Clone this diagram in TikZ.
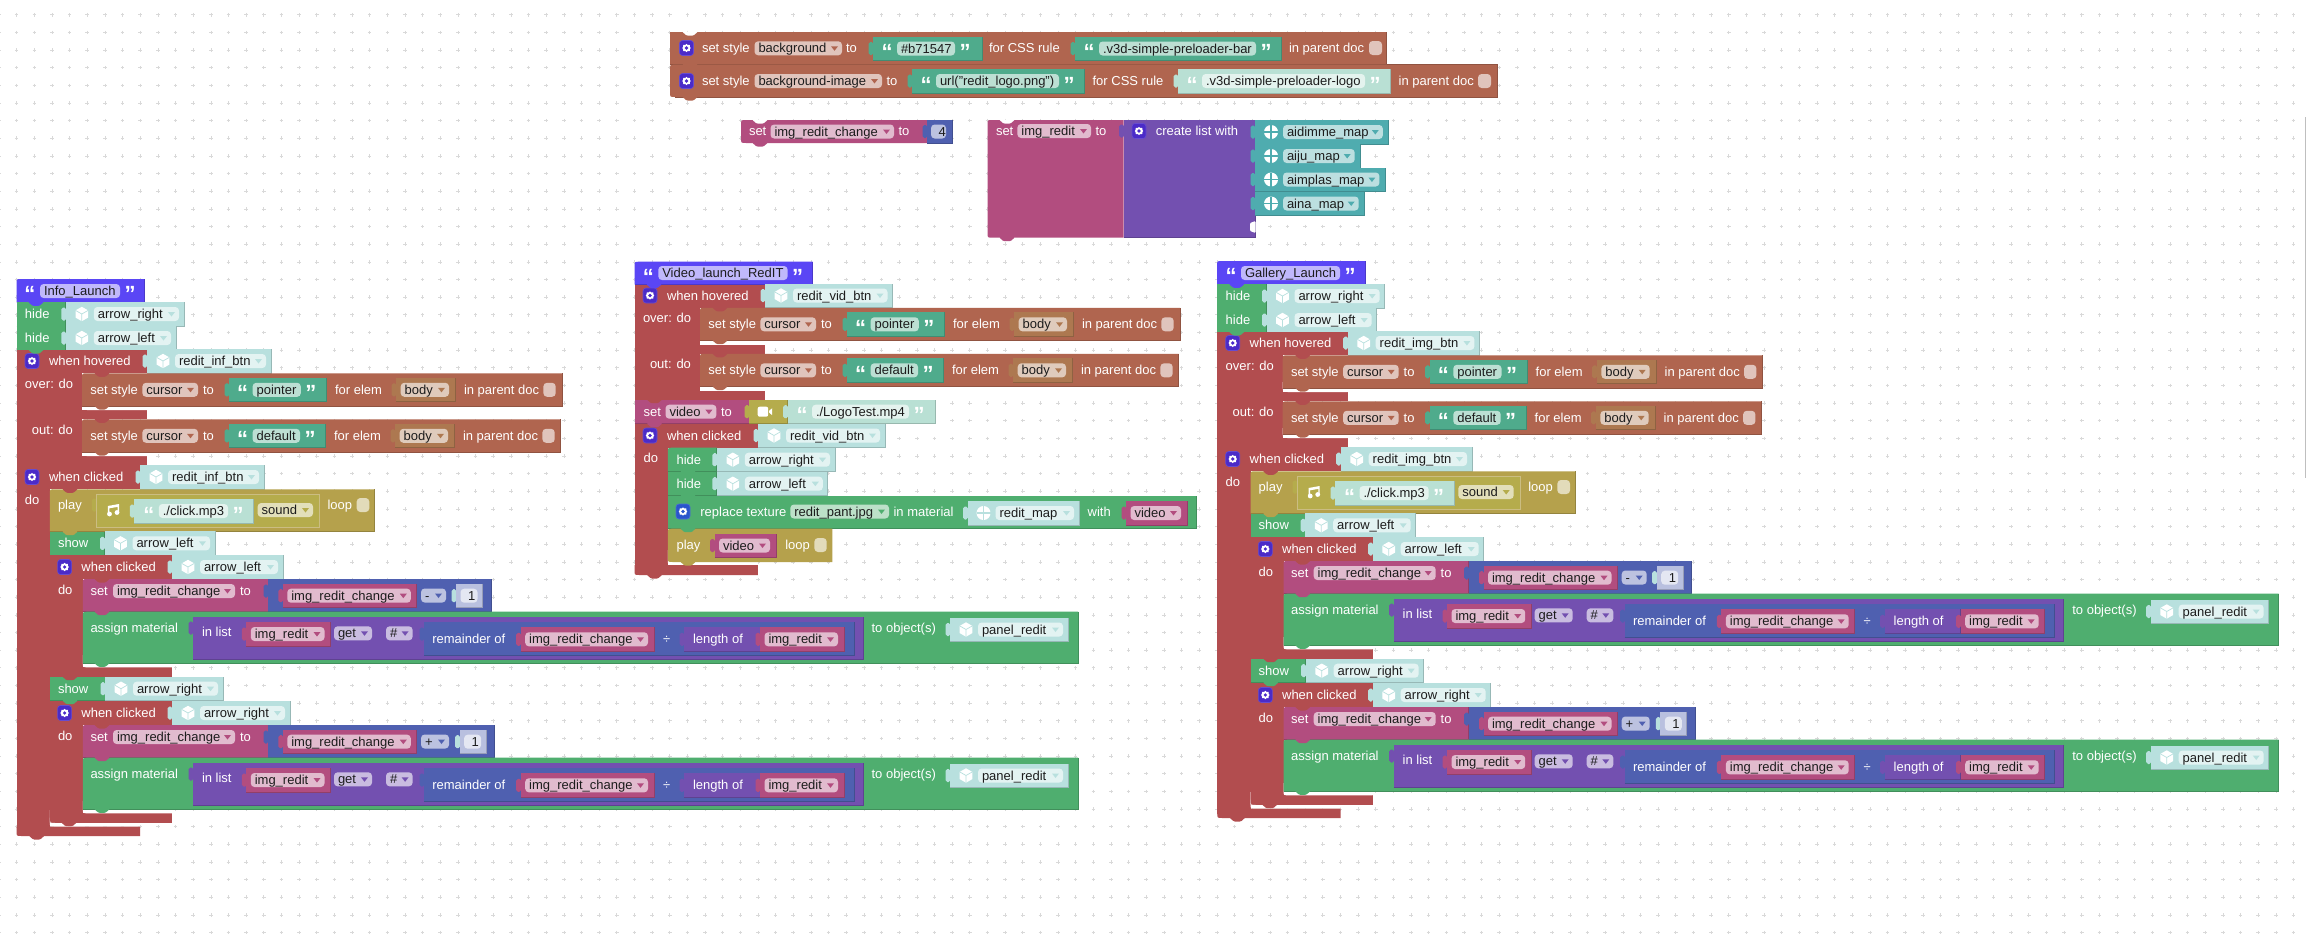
\documentclass[tikz,border=0pt]{standalone}
\usepackage{fontspec}
\setmainfont{Liberation Sans}
\definecolor{cbrown}{HTML}{B0654F}
\definecolor{cred}{HTML}{B24D4F}
\definecolor{colive}{HTML}{B5A14C}
\definecolor{coliveb}{HTML}{B5AC4C}
\definecolor{cgreen}{HTML}{4FAE6F}
\definecolor{cstr}{HTML}{4FAB8C}
\definecolor{clstr}{HTML}{B9E0D4}
\definecolor{cobj}{HTML}{B8E0DE}
\definecolor{cpink}{HTML}{B24D7F}
\definecolor{cpurple}{HTML}{7350B0}
\definecolor{cblue}{HTML}{4F60B0}
\definecolor{chead}{HTML}{5A46F5}
\definecolor{cmap}{HTML}{4FACAF}
\definecolor{cbody}{HTML}{AD7850}
\definecolor{cgear}{HTML}{4B2BC8}
\definecolor{cgearb}{HTML}{2A55CC}
\definecolor{ctxt}{HTML}{1C1C1C}
\tikzset{
  lbl/.style={inner sep=0pt,outer sep=0pt,anchor=base west,font=\fontsize{6.5}{7.8}\selectfont,text=white,yshift=-2.25pt},
  fdt/.style={lbl,text=ctxt},
  qte/.style={inner sep=0pt,outer sep=0pt,anchor=base,font=\fontsize{11}{12}\bfseries\selectfont,text=white,yshift=-5.5pt}
}
% block primitives
\newcommand\qFl[5]{\fill[#1] (#2,#3) rectangle (#4,#5);}
\newcommand\qBk[5]{\fill[#1] (#2,#3) rectangle (#4,#5);\draw[#1!82!black,line width=.35pt] (#2,#5)--(#4,#5)--(#4,#3);}
\newcommand\qRk[5]{\pgfmathsetmacro\rA{#2+5}\pgfmathsetmacro\rB{#3+5}%
  \fill[#1] (#2,#5)--(#2,\rB) .. controls (#2,#3) .. (\rA,#3)--(#4,#3)--(#4,#5)--cycle;%
  \draw[#1!82!black,line width=.35pt] (#2,#5)--(#4,#5)--(#4,#3);}
\newcommand\qRkb[5]{\pgfmathsetmacro\rA{#2+5}\pgfmathsetmacro\rB{#3+5}\pgfmathsetmacro\rC{#5-5}%
  \fill[#1] (\rA,#5) .. controls (#2,#5) .. (#2,\rC)--(#2,\rB) .. controls (#2,#3) .. (\rA,#3)--(#4,#3)--(#4,#5)--cycle;}
\newcommand\qBl[5]{\pgfmathsetmacro\rA{#2+5}\pgfmathsetmacro\rC{#5-5}%
  \fill[#1] (#2,#3)--(#2,\rC) .. controls (#2,#5) .. (\rA,#5)--(#4,#5)--(#4,#3)--cycle;}
\newcommand\qNt[3]{\fill[#1,shift={(#2,#3)},rounded corners=.5pt] (-8,-.5)--(-3.5,3.5)--(3.5,3.5)--(8,-.5)--cycle;}
\newcommand\qSk[3]{\fill[#1,shift={(#2,#3)},rounded corners=.9pt] (.5,-6.5)--(-4.5,-6.5)--(-4.5,6.5)--(.5,6.5)--cycle;}
% text
\newcommand\qTx[3]{\node[lbl] at (#1,#2) {#3};}
\newcommand\qFd[4]{\fill[white,fill opacity=.62,rounded corners=1.8pt,shift={(0,#3)}] (#1,-7) rectangle (#2,7);%
  \node[fdt,xshift=2pt] at (#1,#3) {#4};}
\newcommand\qDD[5]{\qFd{#1}{#2}{#3}{#5}\fill[#4,shift={(#2,#3)}] (-11,-2)--(-4,-2)--(-7.5,2.5)--cycle;}
\newcommand\qCb[3]{\fill[white,fill opacity=.62,rounded corners=1.8pt,shift={(0,#3)}] (#1,-7) rectangle (#2,7);}
\newcommand\qStr[7]{\qSk{#1}{#2}{#4}\pgfmathsetmacro\rT{#4-12}\pgfmathsetmacro\rU{#4+12}\qBk{#1}{#2}{\rT}{#3}{\rU}%
  \node[qte,xshift=-5pt] at (#5,#4) {“};\node[qte,xshift=5pt] at (#6,#4) {”};\qFd{#5}{#6}{#4}{#7}}
\newcommand\qVal[5]{\qSk{cobj}{#1}{#3}\pgfmathsetmacro\rT{#3-12}\pgfmathsetmacro\rU{#3+12}\qBk{cobj}{#1}{\rT}{#2}{\rU}%
  \pgfmathsetmacro\rI{#1+16}\pgfmathsetmacro\rF{#1+28}\pgfmathsetmacro\rG{#2-5}%
  #4{\rI}{#3}{cobj}\qDD{\rF}{\rG}{#3}{cobj}{#5}}
\newcommand\qVar[4]{\qSk{cpink}{#1}{#3}\pgfmathsetmacro\rT{#3-12}\pgfmathsetmacro\rU{#3+12}\qBk{cpink}{#1}{\rT}{#2}{\rU}%
  \pgfmathsetmacro\rF{#1+4.5}\pgfmathsetmacro\rG{#2-6}\qDD{\rF}{\rG}{#3}{cpink}{#4}}
\newcommand\qMap[3]{\qSk{cmap}{1255}{#1}\pgfmathsetmacro\rT{#1-12}\pgfmathsetmacro\rU{#1+12}\qBk{cmap}{1255}{\rT}{#2}{\rU}%
  \qMat{1271}{#1}{cmap}\pgfmathsetmacro\rG{#2-6}\qDD{1283}{\rG}{#1}{cmap}{#3}}
% icons
\newcommand\qGear[3]{\begin{scope}[shift={(#1,#2)}]
  \fill[#3,rounded corners=1.5pt] (-7,-7.5) rectangle (7,7.5);
  \draw[#3!85!white,line width=.3pt,rounded corners=1.5pt] (-7,-7.5) rectangle (7,7.5);
  \fill[white] (0,-4.2)--(1,-3.2)--(3.2,-3.2)--(3.4,-1.2)--(4.2,0)--(3.4,1.2)--(3.2,3.2)--(1,3.2)--(0,4.2)--(-1,3.2)--(-3.2,3.2)--(-3.4,1.2)--(-4.2,0)--(-3.4,-1.2)--(-3.2,-3.2)--(-1,-3.2)--cycle;
  \fill[#3] (0,0) circle (1.8);
  \end{scope}}
\newcommand\qCube[3]{\begin{scope}[shift={(#1,#2)}]
  \fill[white] (0,-7.2)--(6.3,-3.6)--(6.3,3.6)--(0,7.2)--(-6.3,3.6)--(-6.3,-3.6)--cycle;
  \draw[#3,line width=.35pt] (-6.3,-3.6)--(0,0)--(6.3,-3.6) (0,0)--(0,7.2);
  \end{scope}}
\newcommand\qMat[3]{\begin{scope}[shift={(#1,#2)}]
  \fill[white] (0,0) circle (7);
  \draw[#3,line width=.6pt] (-7,0)--(7,0) (0,-7)--(0,7);
  \end{scope}}
\newcommand\qNote[2]{\begin{scope}[shift={(#1,#2)}]
  \fill[white] (-3.5,3.5) circle (2.4);\fill[white] (4,2) circle (2.4);
  \fill[white] (-5.2,3.5)--(-5.2,-4.5)--(6,-6.5)--(6,2)--(4.6,2)--(4.6,-3.6)--(-3.6,-2.2)--(-3.6,3.5)--cycle;
  \end{scope}}
\newcommand\qCam[2]{\begin{scope}[shift={(#1,#2)}]
  \fill[white,rounded corners=1pt] (-7,-5) rectangle (3.5,5);
  \fill[white] (4.5,-1)--(7.5,-3.5)--(7.5,3.5)--(4.5,1)--cycle;
  \end{scope}}
% composite: set style cursor block
\newcommand\qCursor[6]{\pgfmathsetmacro\rY{#1+16.5}\pgfmathsetmacro\rE{#1+32.7}
  \qRk{cbrown}{82}{#1}{#3}{\rE}
  \qNt{cred}{102}{#1}
  \qTx{90.3}{\rY}{set style}
  \qDD{142.4}{198}{\rY}{cbrown}{cursor}
  \qTx{203}{\rY}{to}
  \qStr{cstr}{229}{#4}{\rY}{252.6}{#5}{#2}
  \begin{scope}[shift={(#6,0)}]
  \qTx{335}{\rY}{for elem}
  \qSk{cbody}{396}{\rY}
  \pgfmathsetmacro\rT{\rY-12}\pgfmathsetmacro\rU{\rY+12}
  \qBk{cbody}{396}{\rT}{455.4}{\rU}
  \qDD{400.7}{449}{\rY}{cbody}{body}
  \qTx{464}{\rY}{in parent doc}
  \qCb{543.4}{555.7}{\rY}
  \end{scope}
  \qNt{cbrown}{102}{\rE}
}
\newcommand\qHover[2]{
  \qFl{cred}{16.5}{350}{82}{465}
  \qFl{cred}{16.5}{350}{147}{373.3}
  \qFl{cred}{16.5}{410}{147}{419.3}
  \qFl{cred}{16.5}{456}{147}{465}
  \qBl{white}{82}{400}{147}{410}
  \qBl{white}{82}{446}{147}{456}
  \qGear{32}{361}{cgear}
  \qTx{49}{361}{when hovered}
  \qVal{147}{#1}{361}{\qCube}{#2}
  \qTx{25}{383.7}{over: do}
  \qTx{32}{429.7}{out: do}
  \qCursor{373.3}{pointer}{562}{326.4}{300.8}{0}
  \qCursor{419.3}{default}{560.6}{325.3}{300}{-1}
}
\newcommand\qClick[6]{
  \qFl{cred}{49.8}{555}{82.8}{676.7}
  \qFl{cred}{49.8}{555}{172}{579}
  \qFl{cred}{49.8}{667.3}{172}{676.7}
  \qBl{white}{82.8}{655}{172}{667.3}
  \qGear{64.6}{567}{cgear}
  \qTx{81.4}{567}{when clicked}
  \qVal{172}{#1}{567}{\qCube}{#2}
  \qTx{58}{590}{do}
  \qRk{cpink}{82.8}{579}{268}{611.7}
  \qNt{cred}{102}{579}
  \qTx{90.5}{591}{set}
  \qDD{113}{235}{591}{cpink}{img\_redit\_change}
  \qTx{240}{591}{to}
  \qSk{cblue}{268}{591}
  \qBk{cblue}{268}{579}{#6}{611.7}
  \qVar{282.8}{416.8}{595.7}{img\_redit\_change}
  \qDD{421}{#4}{595.5}{cblue}{#3}
  \qSk{cobj}{#5}{595.7}
  \pgfmathsetmacro\rN{#5+26.5}\pgfmathsetmacro\rF{#5+4.5}\pgfmathsetmacro\rG{#5+21.5}
  \qBk{cblue!40!white}{#5}{583.7}{\rN}{607.7}
  \qFd{\rF}{\rG}{595.7}{\kern1.8pt 1}
  \qRk{cgreen}{82.8}{611.7}{1078}{663.3}
  \qNt{cpink}{102}{611.7}
  \qTx{90.5}{627.7}{assign material}
  \qSk{cpurple}{193}{628}
  \qBk{cpurple}{193}{617.3}{863}{659.3}
  \qTx{202}{632.3}{in list}
  \qVar{246.3}{330.5}{634}{img\_redit}
  \qDD{334}{372}{633.3}{cpurple}{get}
  \qDD{386}{412.6}{633.3}{cpurple}{\#}
  \qSk{cblue}{424}{634}
  \qBk{cblue}{424}{622.3}{854}{655}
  \qTx{432.3}{638.7}{remainder of}
  \qVar{520.7}{654}{639.3}{img\_redit\_change}
  \qTx{663}{639.3}{÷}
  \qSk{cpurple}{684}{639.3}
  \qBk{cpurple}{684}{627.3}{760}{651.3}
  \qTx{693}{639.3}{length of}
  \qVar{760}{844}{639.3}{img\_redit}
  \qTx{871.6}{627.7}{to object(s)}
  \qVal{950}{1068}{629.5}{\qCube}{panel\_redit}
  \qNt{cgreen}{102}{663.3}
}
\newcommand\qMain[2]{
  \qFl{cred}{16.5}{465}{49.8}{831}
  \qFl{cred}{16.5}{465}{140}{489}
  \qBl{white}{49.8}{810}{140}{826.7}
  \qBl{cred}{16.5}{826.7}{140}{836}
  \qNt{cred}{36.7}{836}
  \qGear{32}{477}{cgear}
  \qTx{49}{477}{when clicked}
  \qVal{140}{#1}{477}{\qCube}{#2}
  \qTx{25}{499.7}{do}
  \qRk{colive}{49.8}{489.3}{374.7}{531.7}
  \qNt{cred}{70}{489.3}
  \qTx{58}{505}{play}
  \qSk{coliveb}{96.4}{505}
  \fill[coliveb] (96.4,494.3) rectangle (319.6,527.3);
  \draw[colive!70!white,line width=.4pt] (96.4,494.3) rectangle (319.6,527.3);
  \qNote{113}{510.5}
  \qStr{clstr}{134.3}{253.3}{511}{158.8}{228}{./click.mp3}
  \qDD{257.6}{313}{510}{coliveb}{sound}
  \qTx{327.6}{505}{loop}
  \qCb{356.7}{369.3}{505}
  \qBk{cgreen}{49.8}{531.7}{104.5}{555}
  \qNt{colive}{70}{531.7}
  \qTx{58}{543.3}{show}
  \qVal{104.5}{215}{543.3}{\qCube}{arrow\_left}
  \qNt{cgreen}{70}{555}
  \qClick{283}{arrow\_left}{-}{446}{456}{491}
  \qBk{cgreen}{49.8}{676.7}{105}{700.7}
  \qNt{cred}{70}{676.7}
  \qTx{58}{688.7}{show}
  \qVal{105}{223}{688.7}{\qCube}{arrow\_right}
  \begin{scope}[shift={(0,146)}]
  \qClick{290}{arrow\_right}{+}{449}{459.6}{494.7}
  \end{scope}
  \qNt{cgreen}{70}{700.7}
  \fill[white] (49.8,817.7) .. controls (49.8,822.7) .. (54.8,822.7)--(49.8,822.7)--cycle;
  \qNt{cred}{69}{822.7}
}
\begin{document}
\begin{tikzpicture}[x=0.5pt,y=-0.5pt]
\useasboundingbox (0,0) rectangle (2306,942);
\fill[white] (0,0) rectangle (2306,942);
% dotted grid
\foreach \i in {0,...,130}{\foreach \j in {0,...,52}{
  \draw[shift={(\i*17.65-1,\j*17.65+14.7)},color=black!15,line width=.3pt] (-1.8,0)--(1.8,0) (0,-1.8)--(0,1.8);
}}
\fill[black!25] (2304.5,117) rectangle (2306,478);
% ---------- preloader styles
\qBk{cbrown}{670}{32}{1386.5}{64.7}
\qRkb{cbrown}{670}{64.7}{1497}{97}
\draw[cbrown!82!black,line width=.35pt] (1386.5,64.7)--(1497,64.7)--(1497,97)--(675,97);
\qNt{white}{690}{32}
\qNt{cbrown}{690}{97}
\qNt{cbrown}{690}{64.7}
\qGear{686.5}{48}{cgear}
\qTx{702}{48}{set style}
\qDD{754.5}{842}{48.3}{cbrown}{background}
\qTx{846}{48}{to}
\qStr{cstr}{873}{982}{48.5}{897}{955}{\#b71547}
\qTx{989}{48}{for CSS rule}
\qStr{cstr}{1075}{1281}{48.5}{1099}{1256}{.v3d-simple-preloader-bar}
\qTx{1289}{48}{in parent doc}
\qCb{1369}{1382}{48}
\qGear{686.5}{81}{cgear}
\qTx{702}{81}{set style}
\qDD{754.5}{882}{81}{cbrown}{background-image}
\qTx{886.5}{81}{to}
\qStr{cstr}{912}{1084.5}{81}{936}{1059}{url("redit\_logo.png")}
\qTx{1092.6}{81}{for CSS rule}
\qStr{clstr}{1178}{1390.5}{81}{1202}{1365}{.v3d-simple-preloader-logo}
\qTx{1398.6}{81}{in parent doc}
\qCb{1478}{1491}{81}
% ---------- img_redit_change
\qRkb{cpink}{741}{120}{927}{143}
\qNt{white}{760}{120}
\qNt{cpink}{760}{143}
\qTx{749}{131}{set}
\qDD{770.5}{894}{131.5}{cpink}{img\_redit\_change}
\qTx{898.6}{131}{to}
\qSk{cblue}{927}{131.5}
\qBk{cblue}{927}{120}{952}{143}
\qFd{931}{946}{131.5}{\kern1.8pt 4}
% ---------- img_redit
\qRkb{cpink}{987.5}{120}{1123.6}{237.7}
\qNt{white}{1007}{120}
\qNt{cpink}{1007}{237.7}
\qTx{996}{131}{set}
\qDD{1017.4}{1091}{131}{cpink}{img\_redit}
\qTx{1095.5}{131}{to}
\qSk{cpurple}{1123.6}{131}
\qBk{cpurple}{1123.6}{120}{1255}{237.7}
\qGear{1139}{131}{cgear}
\qTx{1155.8}{131}{create list with}
\qMap{132}{1388.8}{aidimme\_map}
\qMap{156}{1360.7}{aiju\_map}
\qMap{179.5}{1385.4}{aimplas\_map}
\qMap{203.5}{1364.7}{aina\_map}
\fill[white,rounded corners=.5pt] (1255.5,221)--(1250,223)--(1250,231)--(1255.5,233)--cycle;
% ---------- Info_Launch
\qRk{chead}{16.5}{279}{144.7}{302.3}
\node[qte,xshift=-5pt] at (40,290.5) {“};\node[qte,xshift=5pt] at (120,290.5) {”};
\qFd{40}{120}{291}{Info\_Launch}
\qBk{cgreen}{16.5}{302.3}{65.8}{326}
\qNt{chead}{36}{302.3}
\qTx{25}{314}{hide}
\qVal{65.8}{184}{314}{\qCube}{arrow\_right}
\qBk{cgreen}{16.5}{326}{65.8}{350}
\qNt{cgreen}{36}{326}
\qTx{25}{338}{hide}
\qVal{65.8}{176}{338}{\qCube}{arrow\_left}
\qHover{271}{redit\_inf\_btn}
\qNt{cgreen}{36}{350}
\qNt{cred}{36}{465}
\qMain{264}{redit\_inf\_btn}
% ---------- Video_launch_RedIT
\qRk{chead}{634.5}{261.7}{812.5}{284.3}
\node[qte,xshift=-5pt] at (658.3,273) {“};\node[qte,xshift=5pt] at (787.6,273) {”};
\qFd{658.3}{787.6}{273}{Video\_launch\_RedIT}
\begin{scope}[shift={(618,-65.5)}]
\qHover{274.5}{redit\_vid\_btn}
\qNt{chead}{36}{350}
\end{scope}
\qBk{cpink}{634.5}{399.7}{749}{423.7}
\qNt{cred}{654.5}{399.7}
\qTx{643.7}{411.7}{set}
\qDD{665.5}{716.4}{411.7}{cpink}{video}
\qTx{721}{411.7}{to}
\qSk{coliveb}{749}{411.7}
\qBk{coliveb}{749}{399.7}{787.6}{423.7}
\qCam{764.7}{411.7}
\qStr{clstr}{787.6}{935}{411.7}{812}{909}{./LogoTest.mp4}
\qFl{cred}{634.5}{423.7}{667.8}{570}
\qFl{cred}{634.5}{423.7}{758}{447.7}
\qNt{cpink}{654.5}{423.7}
\qBl{white}{667.8}{550}{758}{565}
\qBl{cred}{634.5}{565}{757.8}{575}
\qNt{cred}{654.5}{575}
\qGear{650}{435.5}{cgear}
\qTx{667}{435.5}{when clicked}
\qVal{758}{885}{435.5}{\qCube}{redit\_vid\_btn}
\qTx{643.7}{457.7}{do}
\qRk{cgreen}{667.8}{447.7}{716.8}{471.7}
\qTx{676.6}{459.7}{hide}
\qVal{716.8}{835}{459.7}{\qCube}{arrow\_right}
\qBk{cgreen}{667.8}{471.7}{716.8}{495.7}
\qNt{cgreen}{688}{471.7}
\qTx{676.6}{483.7}{hide}
\qVal{716.8}{827.8}{483.7}{\qCube}{arrow\_left}
\qBk{cgreen}{667.8}{495.7}{1196.7}{528.7}
\qNt{cgreen}{688}{495.7}
\qGear{683}{511.5}{cgearb}
\qTx{700.4}{511.5}{replace texture}
\qDD{790.3}{889}{511.5}{cgreen}{redit\_pant.jpg}
\qTx{893.6}{511.5}{in material}
\qVal{967.5}{1079}{513}{\qMat}{redit\_map}
\qTx{1087.7}{511.5}{with}
\qVar{1126}{1187}{513}{video}
\qRkb{colive}{667.8}{528.7}{832.4}{562}
\fill[colive] (680,528.7) rectangle (832.4,562);
\qNt{cgreen}{688}{528.7}
\qTx{676.6}{545}{play}
\qVar{714.5}{776}{545.5}{video}
\qTx{785.3}{545}{loop}
\qCb{814.4}{826.7}{545}
\qNt{colive}{688}{562}
% ---------- Gallery_Launch
\qRk{chead}{1217}{261}{1365}{284}
\node[qte,xshift=-5pt] at (1241,272.5) {“};\node[qte,xshift=5pt] at (1340,272.5) {”};
\qFd{1241}{1340}{273}{Gallery\_Launch}
\begin{scope}[shift={(1200.7,-18)}]
\qBk{cgreen}{16.5}{302.3}{65.8}{326}
\qNt{chead}{36}{302.3}
\qTx{25}{314}{hide}
\qVal{65.8}{184}{314}{\qCube}{arrow\_right}
\qBk{cgreen}{16.5}{326}{65.8}{350}
\qNt{cgreen}{36}{326}
\qTx{25}{338}{hide}
\qVal{65.8}{176}{338}{\qCube}{arrow\_left}
\qHover{278.7}{redit\_img\_btn}
\qNt{cgreen}{36}{350}
\qNt{cred}{36}{465}
\qMain{271.3}{redit\_img\_btn}
\end{scope}
\end{tikzpicture}
\end{document}
